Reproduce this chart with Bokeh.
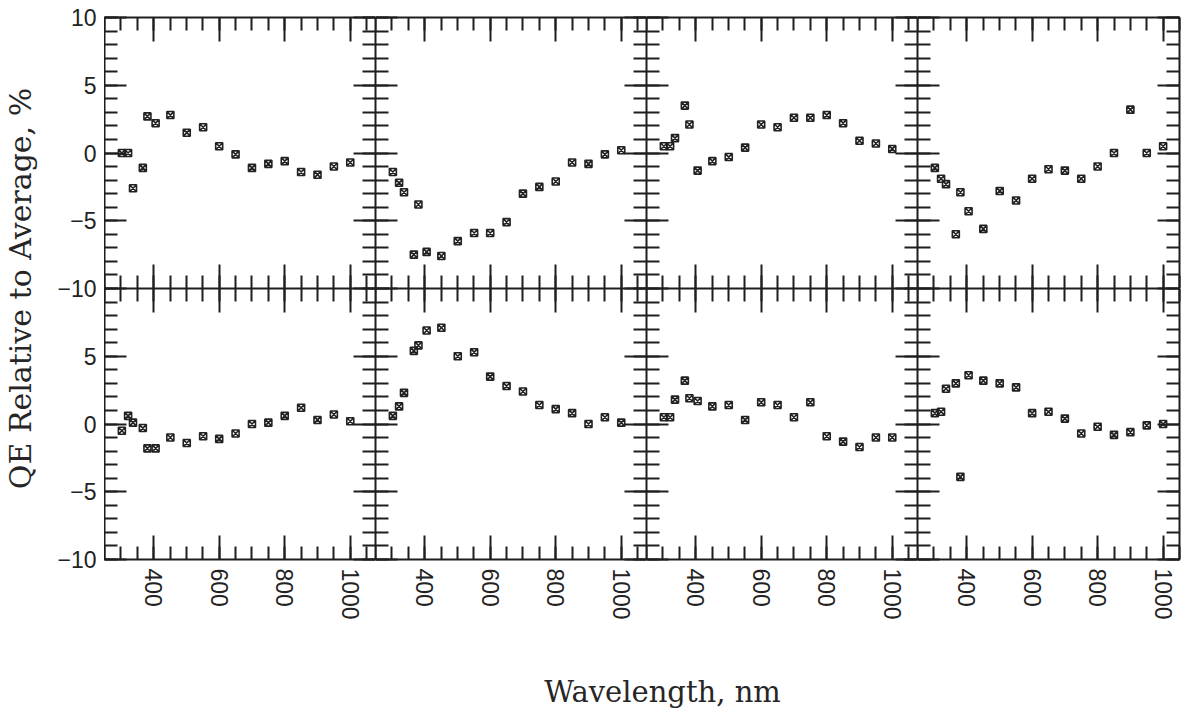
import math
from bokeh.plotting import figure
from bokeh.models import Range1d, SingleIntervalTicker, LinearAxis, Label, CustomJSTickFormatter
from bokeh.layouts import row, column
from bokeh.embed import file_html
from bokeh.resources import INLINE

# ---- data ----
wavelength = [303, 322, 337, 367, 381, 406, 451, 501, 551, 600, 650, 700, 750, 800, 850, 900, 950, 1000]

panel_1 = [0.0, 0.0, -2.6, -1.1, 2.7, 2.2, 2.8, 1.5, 1.9, 0.5, -0.1, -1.1, -0.8, -0.6, -1.4, -1.6, -1.0, -0.7]
panel_2 = [-1.4, -2.2, -2.9, -7.5, -3.8, -7.3, -7.6, -6.5, -5.9, -5.9, -5.1, -3.0, -2.5, -2.1, -0.7, -0.8, -0.1, 0.2]
panel_3 = [0.5, 0.5, 1.1, 3.5, 2.1, -1.3, -0.6, -0.3, 0.4, 2.1, 1.9, 2.6, 2.6, 2.8, 2.2, 0.9, 0.7, 0.3]
panel_4 = [-1.1, -1.9, -2.3, -6.0, -2.9, -4.3, -5.6, -2.8, -3.5, -1.9, -1.2, -1.3, -1.9, -1.0, 0.0, 3.2, 0.0, 0.5]
panel_5 = [-0.5, 0.6, 0.1, -0.3, -1.8, -1.8, -1.0, -1.4, -0.9, -1.1, -0.7, 0.0, 0.1, 0.6, 1.2, 0.3, 0.7, 0.2]
panel_6 = [0.6, 1.3, 2.3, 5.4, 5.8, 6.9, 7.1, 5.0, 5.3, 3.5, 2.8, 2.4, 1.4, 1.1, 0.8, 0.0, 0.5, 0.1]
panel_7 = [0.5, 0.5, 1.8, 3.2, 1.9, 1.7, 1.3, 1.4, 0.3, 1.6, 1.4, 0.5, 1.6, -0.9, -1.3, -1.7, -1.0, -1.0]
panel_8 = [0.8, 0.9, 2.6, 3.0, -3.9, 3.6, 3.2, 3.0, 2.7, 0.8, 0.9, 0.4, -0.7, -0.2, -0.8, -0.6, -0.1, 0.0]

panels = [[panel_1, panel_2, panel_3, panel_4],
          [panel_5, panel_6, panel_7, panel_8]]

# y tick labels of the two stacked rows (each -10..10), top row first
y_tick_values = [10, 5, 0, -5, -10]
y_tick_labels = ["10", "5", "0", "\u22125", "\u221210"]

x_title = "Wavelength, nm"
y_title = "QE Relative to Average, %"

X_START = 250
X_END = [1077, 1077, 1077, 1050]
FRAME_W = [271, 271, 271, 262]
FRAME_H = 271
BORDER_R = [0, 0, 0, 2]
BORDER_T = [17, 0]
BORDER_B = [0, 66]
LEFT_W = 104
INK = "#1e1e1e"
TICK_FONT = "Liberation Sans"
TICK_SIZE = "23px"
TITLE_FONT = "DejaVu Serif"
TITLE_SIZE = "30px"
TITLE_COLOR = "#262626"


def style_axis(ax, major_len, minor_len, labels, standoff=7):
    ax.axis_line_color = INK
    ax.axis_line_width = 2
    ax.major_tick_line_color = INK
    ax.major_tick_line_width = 2
    ax.minor_tick_line_color = INK
    ax.minor_tick_line_width = 2
    ax.major_tick_in = major_len
    ax.major_tick_out = 0
    ax.minor_tick_in = minor_len
    ax.minor_tick_out = 0
    if labels:
        ax.major_label_text_font = TICK_FONT
        ax.major_label_text_font_size = TICK_SIZE
        ax.major_label_text_color = "#222222"
        ax.major_label_standoff = standoff
    else:
        ax.formatter = CustomJSTickFormatter(code="return ''")
        ax.major_label_text_font_size = "0px"
        ax.major_label_standoff = 0


def make_panel(r, c, ys):
    p = figure(width=FRAME_W[c] + BORDER_R[c],
               height=BORDER_T[r] + FRAME_H + BORDER_B[r],
               x_range=Range1d(X_START, X_END[c]), y_range=Range1d(-10, 10),
               x_axis_type=None, y_axis_type=None,
               output_backend="svg", toolbar_location=None,
               min_border_left=0, min_border_right=BORDER_R[c],
               min_border_top=BORDER_T[r], min_border_bottom=BORDER_B[r],
               outline_line_color=None,
               background_fill_color="white", border_fill_color="white")

    for side in ["below", "above"]:
        ax = LinearAxis(ticker=SingleIntervalTicker(interval=200, num_minor_ticks=4))
        show = (side == "below" and r == 1)
        style_axis(ax, 24, 13, show, standoff=9)
        if show:
            ax.major_label_orientation = -math.pi / 2
        p.add_layout(ax, side)

    for side in ["left", "right"]:
        ax = LinearAxis(ticker=SingleIntervalTicker(interval=5, num_minor_ticks=5))
        style_axis(ax, 22, 13, False)
        p.add_layout(ax, side)

    p.scatter(wavelength, ys, marker="square_x", size=7, fill_color=None,
              line_color="#222222", line_width=1.6)
    return p


grid_rows = [row(*[make_panel(r, c, panels[r][c]) for c in range(4)]) for r in range(2)]
grid = column(*grid_rows)

GRID_H = sum(BORDER_T) + sum(BORDER_B) + 2 * FRAME_H
TOTAL_W = LEFT_W + sum(BORDER_R) + sum(FRAME_W)
BOTTOM_H = 713 - GRID_H

# left strip: one axis spanning both rows (top row -10..10 stacked over the lower row -10..10)
left_strip = figure(width=LEFT_W, height=GRID_H, x_range=Range1d(0, 1), y_range=Range1d(-30, 10),
                    x_axis_type=None, y_axis_type=None, outline_line_color=None,
                    min_border_left=LEFT_W - 1, min_border_right=0,
                    min_border_top=BORDER_T[0], min_border_bottom=BORDER_B[1],
                    output_backend="svg", toolbar_location=None)
y_axis = LinearAxis(ticker=SingleIntervalTicker(interval=5, num_minor_ticks=0))
y_axis.axis_line_color = None
y_axis.major_tick_line_color = None
y_axis.major_tick_in = 0
y_axis.major_tick_out = 0
y_axis.major_label_text_font = TICK_FONT
y_axis.major_label_text_font_size = TICK_SIZE
y_axis.major_label_text_color = "#222222"
y_axis.major_label_standoff = 7
overrides = {}
for v, lab in zip(y_tick_values, y_tick_labels):
    overrides[v] = lab            # top row
    overrides[v - 20] = lab       # lower row
overrides[-10] = "\u221210"       # shared boundary
y_axis.major_label_overrides = overrides
y_axis.axis_label = y_title
y_axis.axis_label_text_font = TITLE_FONT
y_axis.axis_label_text_font_size = TITLE_SIZE
y_axis.axis_label_text_font_style = "normal"
y_axis.axis_label_text_color = TITLE_COLOR
y_axis.axis_label_standoff = 16
left_strip.add_layout(y_axis, "left")

bottom_strip = figure(width=TOTAL_W, height=BOTTOM_H, x_range=Range1d(0, TOTAL_W), y_range=Range1d(0, BOTTOM_H),
                      x_axis_type=None, y_axis_type=None, min_border=0, outline_line_color=None,
                      output_backend="svg", toolbar_location=None)
bottom_strip.add_layout(Label(x=662, y=22, text=x_title,
                              text_align="center", text_baseline="alphabetic",
                              text_font=TITLE_FONT, text_font_size="29px", text_color=TITLE_COLOR))

layout = column(row(left_strip, grid), bottom_strip)

open("out.html", "w").write(file_html(layout, INLINE))
